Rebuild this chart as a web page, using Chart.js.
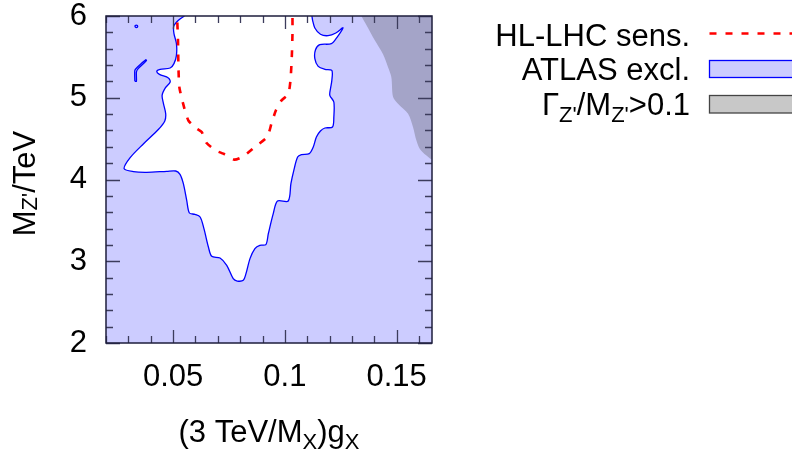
<!DOCTYPE html>
<html>
<head>
<meta charset="utf-8">
<script src="https://cdn.jsdelivr.net/npm/chart.js@4.4.0/dist/chart.umd.min.js"></script>
<style>
html, body { margin: 0; padding: 0; background: #fff; }
</style>
</head>
<body>
<canvas id="chart" width="792" height="453"></canvas>
<script>
// axis ranges
const xRange = [0.02, 0.1658];
const yRange = [2, 6];

// region still allowed by ATLAS (white hole in the exclusion)
const holeX = [0.0551,0.0524,0.0503,0.0504,0.0515,0.0515,0.0504,0.0487,0.0442,0.0427,0.0439,0.0479,0.0487,0.0466,0.0451,0.0457,0.0467,0.0463,0.0435,0.0368,
  0.0308,0.0281,0.0323,0.0382,0.0472,0.0512,0.0531,0.0546,0.0561,0.0573,0.0598,0.0621,0.0638,0.0658,0.0673,0.0710,0.0740,0.0769,0.0787,0.0814,
  0.0826,0.0844,0.0866,0.0888,0.0915,0.0926,0.0948,0.0967,0.1015,0.1027,0.1040,0.1057,0.1074,0.1109,0.1127,0.1141,0.1159,0.1179,0.1213,0.1219,
  0.1219,0.1201,0.1204,0.1210,0.1210,0.1179,0.1149,0.1134,0.1137,0.1156,0.1208,0.1234,0.1260,0.1228,0.1193,0.1159,0.1134,0.1124,0.1121];
const holeY = [6.0,5.947,5.874,5.784,5.662,5.519,5.417,5.364,5.348,5.323,5.286,5.242,5.193,5.123,5.030,4.928,4.805,4.716,4.614,4.438,
  4.267,4.132,4.096,4.088,4.100,4.104,4.063,3.949,3.745,3.590,3.574,3.541,3.399,3.174,3.060,3.040,2.950,2.787,2.758,2.767,
  2.848,3.032,3.154,3.195,3.203,3.337,3.582,3.737,3.737,3.949,4.112,4.275,4.304,4.316,4.398,4.520,4.593,4.630,4.642,4.765,
  4.948,5.030,5.111,5.213,5.335,5.348,5.384,5.478,5.588,5.649,5.662,5.743,5.857,5.792,5.759,5.776,5.853,5.947,6.0];

// small closed ATLAS contours on the left
const islandAX = [0.0328,0.0335,0.0342,0.0335,0.0328];
const islandAY = [5.874,5.889,5.874,5.859,5.874];
const islandBX = [0.0329,0.0329,0.0341,0.0378,0.0381,0.0344,0.0336,0.0336,0.0329];
const islandBY = [5.201,5.335,5.376,5.466,5.454,5.356,5.315,5.201,5.201];

// HL-LHC sensitivity
const hlX = [0.0519,0.0522,0.0524,0.0528,0.0543,0.0568,0.0606,0.0628,0.0650,0.0695,0.0725,0.0774,0.0814,0.0866,0.0921,0.0940,0.0960,0.0985,0.1015,0.1025,0.1031,0.1034,0.1034];
const hlY = [5.92,5.702,5.376,5.131,4.948,4.724,4.622,4.581,4.446,4.349,4.316,4.243,4.283,4.398,4.520,4.683,4.846,4.968,5.042,5.213,5.498,5.784,6.0];

// Gamma/M > 0.1 boundary (region to the upper right)
const widthX = [0.1342,0.1365,0.1402,0.1439,0.1461,0.1476,0.1484,0.1506,0.1551,0.1573,0.1588,0.1603,0.1632,0.1658,0.1658];
const widthY = [6.0,5.886,5.702,5.531,5.376,5.254,5.009,4.928,4.805,4.642,4.479,4.377,4.296,4.255,6.0];

const pts = (xs, ys) => xs.map((x, i) => ({x: x, y: ys[i]}));

const FONT = '"Liberation Sans", Arial, sans-serif';
const MAIN = '31px ' + FONT;
const SUB = '22px ' + FONT;

function isMajor(v, step) {
    const r = v / step;
    return Math.abs(r - Math.round(r)) < 1e-6;
}

// text with subscripts: parts = [[text, isSub], ...]
function drawRich(ctx, parts, x, y, align, subDy) {
    let total = 0;
    parts.forEach(p => { ctx.font = p[1] ? SUB : MAIN; total += ctx.measureText(p[0]).width; });
    let cx = align === 'right' ? x - total : align === 'center' ? x - total / 2 : x;
    ctx.textAlign = 'left';
    ctx.textBaseline = 'alphabetic';
    parts.forEach(p => {
        ctx.font = p[1] ? SUB : MAIN;
        ctx.fillText(p[0], cx, y + (p[1] ? subDy : 0));
        cx += ctx.measureText(p[0]).width;
    });
}

// inside ticks on all four sides + frame
const frameTicks = {
    id: 'frameTicks',
    afterDatasetsDraw(chart) {
        const {ctx, chartArea: a, scales: {x, y}} = chart;
        ctx.save();
        ctx.strokeStyle = '#3c3c5c';
        ctx.lineWidth = 1.3;
        ctx.beginPath();
        x.ticks.forEach(t => {
            const px = Math.round(x.getPixelForValue(t.value)) + 0.5;
            const len = isMajor(t.value, 0.05) ? 13 : 7;
            ctx.moveTo(px, a.bottom); ctx.lineTo(px, a.bottom - len);
            ctx.moveTo(px, a.top); ctx.lineTo(px, a.top + len);
        });
        y.ticks.forEach(t => {
            const py = Math.round(y.getPixelForValue(t.value)) + 0.5;
            const len = isMajor(t.value, 1) ? 14 : 7;
            ctx.moveTo(a.left, py); ctx.lineTo(a.left + len, py);
            ctx.moveTo(a.right, py); ctx.lineTo(a.right - len, py);
        });
        ctx.stroke();
        ctx.strokeStyle = '#1e1e3c';
        ctx.lineWidth = 1.5;
        ctx.strokeRect(a.left, a.top, a.width, a.height);
        ctx.restore();
    }
};

// axis titles and the key
const titlesKey = {
    id: 'titlesKey',
    afterDraw(chart) {
        const ctx = chart.ctx;
        const a = chart.chartArea;
        const ds = chart.data.datasets;
        ctx.save();
        ctx.fillStyle = '#000';

        drawRich(ctx, [['(3 TeV/M', false], ['X', true], [')g', false], ['X', true]], (a.left + a.right) / 2, 442, 'center', 7);

        ctx.save();
        ctx.translate(35, (a.top + a.bottom) / 2 + 4);
        ctx.rotate(-Math.PI / 2);
        drawRich(ctx, [['M', false], ["Z'", true], ['/TeV', false]], 0, 0, 'center', 2);
        ctx.restore();

        const tx = 690, sx = 709.5;
        const hl = ds.find(d => d.label === 'HL-LHC sens.');
        const ex = ds.find(d => d.label === 'ATLAS excl.');
        drawRich(ctx, [['HL-LHC sens.', false]], tx, 46, 'right', 0);
        ctx.save();
        ctx.strokeStyle = hl.borderColor;
        ctx.lineWidth = hl.borderWidth;
        ctx.setLineDash(hl.borderDash);
        ctx.beginPath();
        ctx.moveTo(sx, 33.5); ctx.lineTo(800, 33.5);
        ctx.stroke();
        ctx.restore();

        drawRich(ctx, [['ATLAS excl.', false]], tx, 80, 'right', 0);
        ctx.fillStyle = ex.backgroundColor;
        ctx.fillRect(sx, 60.5, 100, 17);
        ctx.strokeStyle = '#0000ff';
        ctx.lineWidth = 1.3;
        ctx.strokeRect(sx, 60.5, 100, 17);

        ctx.fillStyle = '#000';
        drawRich(ctx, [['\u0393', false], ["Z'", true], ['/M', false], ["Z'", true], ['>0.1', false]], tx, 115, 'right', 7);
        ctx.fillStyle = '#c8c8c8';
        ctx.fillRect(sx, 95.5, 100, 17.5);
        ctx.strokeStyle = '#444';
        ctx.strokeRect(sx, 95.5, 100, 17.5);
        ctx.restore();
    }
};

const lineBase = {showLine: true, pointRadius: 0, pointHoverRadius: 0};

new Chart(document.getElementById('chart'), {
    type: 'scatter',
    data: {
        datasets: [
            Object.assign({}, lineBase, {
                label: 'HL-LHC sens.',
                data: pts(hlX, hlY),
                borderColor: '#ff0000',
                borderWidth: 2.6,
                borderDash: [7, 9],
                tension: 0.2,
                fill: false,
                order: 0
            }),
            Object.assign({}, lineBase, {
                label: 'islandA',
                data: pts(islandAX, islandAY),
                borderColor: '#0000ff',
                borderWidth: 1.3,
                tension: 0.4,
                fill: false,
                order: 1
            }),
            Object.assign({}, lineBase, {
                label: 'islandB',
                data: pts(islandBX, islandBY),
                borderColor: '#0000ff',
                borderWidth: 1.3,
                tension: 0.2,
                fill: false,
                order: 1
            }),
            Object.assign({}, lineBase, {
                label: 'width',
                data: pts(widthX, widthY),
                borderWidth: 0,
                backgroundColor: '#a4a4c8',
                tension: 0.3,
                fill: 'shape',
                order: 2
            }),
            Object.assign({}, lineBase, {
                label: 'hole',
                data: pts(holeX, holeY),
                borderColor: '#0000ff',
                borderWidth: 1.3,
                backgroundColor: '#ffffff',
                tension: 0.3,
                fill: 'shape',
                order: 3
            }),
            Object.assign({}, lineBase, {
                label: 'ATLAS excl.',
                data: pts([xRange[0], xRange[1], xRange[1], xRange[0]], [yRange[0], yRange[0], yRange[1], yRange[1]]),
                borderWidth: 0,
                backgroundColor: '#ccccff',
                fill: 'shape',
                order: 4
            })
        ]
    },
    options: {
        responsive: false,
        animation: false,
        layout: {padding: {left: 0, right: 360, top: 16, bottom: 0}},
        plugins: {legend: {display: false}, tooltip: {enabled: false}},
        scales: {
            x: {
                type: 'linear',
                min: xRange[0], max: xRange[1],
                grid: {display: false, drawTicks: false},
                border: {display: false},
                afterFit: s => { s.height = 110; s.paddingLeft = 0; s.paddingRight = 0; },
                ticks: {
                    stepSize: 0.01,
                    includeBounds: false,
                    autoSkip: false,
                    maxRotation: 0,
                    padding: 19,
                    color: '#000',
                    font: {family: FONT, size: 31, lineHeight: 1},
                    callback: v => isMajor(v, 0.05) ? String(+v.toFixed(2)) : ''
                }
            },
            y: {
                type: 'linear',
                min: yRange[0], max: yRange[1],
                grid: {display: false, drawTicks: false},
                border: {display: false},
                afterFit: s => { s.width = 106; s.paddingTop = 0; s.paddingBottom = 0; },
                ticks: {
                    stepSize: 0.2,
                    autoSkip: false,
                    padding: 19,
                    color: '#000',
                    font: {family: FONT, size: 31, lineHeight: 1},
                    callback: v => isMajor(v, 1) ? String(Math.round(v)) : ''
                }
            }
        }
    },
    plugins: [frameTicks, titlesKey]
});
</script>
</body>
</html>
